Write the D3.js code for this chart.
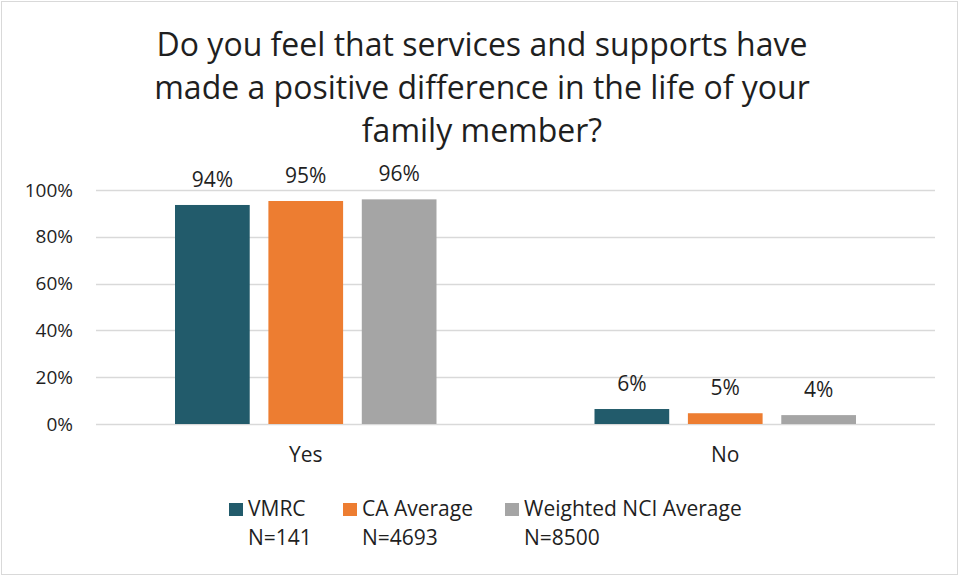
<!DOCTYPE html>
<html>
<head>
<meta charset="utf-8">
<script src="https://cdn.jsdelivr.net/npm/d3@7"></script>
<style>
  body { margin: 0; background: #fff; }
  text { font-family: "Open Sans", Lato, sans-serif; fill: #1f1f1f; }
</style>
</head>
<body>
<script>
// chart values
const categories = ["Yes", "No"];
const seriesNames = ["VMRC", "CA Average", "Weighted NCI Average"];
const seriesN = ["N=141", "N=4693", "N=8500"];
const vmrc = [0.936, 0.064];
const caAverage = [0.953, 0.046];
const nciAverage = [0.96, 0.038];
const yTicks = [0, 0.2, 0.4, 0.6, 0.8, 1];
const titleLines = ["Do you feel that services and supports have",
                    "made a positive difference in the life of your",
                    "family member?"];

const colors = ["#225B6B", "#ED7D31", "#A5A5A5"];
const series = [vmrc, caAverage, nciAverage];

const W = 960, H = 577;
const margin = {top: 190, right: 25, bottom: 153, left: 96};
const width = W - margin.left - margin.right;
const height = H - margin.top - margin.bottom;

var svg = d3.select("body").append("svg")
    .attr("width", W)
    .attr("height", H);

// outer border
svg.append("rect")
    .attr("x", 1.5).attr("y", 1.5)
    .attr("width", W - 4).attr("height", H - 4)
    .attr("fill", "#fff")
    .attr("stroke", "#d9d9d9");

// title
svg.append("text")
    .attr("text-anchor", "middle")
    .style("font-size", "32px")
    .selectAll("tspan")
    .data(titleLines)
    .enter().append("tspan")
    .attr("x", 482)
    .attr("y", function(d, i) { return 56 + i * 43; })
    .text(function(d) { return d; });

var g = svg.append("g")
    .attr("transform", "translate(" + margin.left + "," + margin.top + ")");

var x0 = d3.scaleBand().domain(categories).range([0, width]).paddingInner(0).paddingOuter(0);
var x1 = d3.scaleBand().domain(d3.range(series.length))
    .range([79, x0.bandwidth() - 79]).paddingInner(0.2);
var y = d3.scaleLinear().domain([0, 1]).range([height, 0]);

// gridlines
g.selectAll(".grid")
    .data(yTicks)
    .enter().append("line")
    .attr("class", "grid")
    .attr("x1", 0).attr("x2", width)
    .attr("y1", function(d) { return Math.round(y(d)) + 0.5; })
    .attr("y2", function(d) { return Math.round(y(d)) + 0.5; })
    .attr("stroke", "#d9d9d9")
    .attr("stroke-width", 1.5);

// y axis labels
var yAxis = d3.axisLeft(y).tickValues(yTicks).tickFormat(d3.format(".0%")).tickSize(0).tickPadding(23);
g.append("g").attr("class", "y axis").call(yAxis)
    .call(function(a) { a.select(".domain").remove(); })
    .selectAll("text")
    .style("font-size", "19px")
    .attr("fill", "#1f1f1f");

// x axis labels
var xAxis = d3.axisBottom(x0).tickSize(0).tickPadding(23);
g.append("g").attr("class", "x axis")
    .attr("transform", "translate(0," + height + ")")
    .call(xAxis)
    .call(function(a) { a.select(".domain").remove(); })
    .selectAll("text")
    .style("font-size", "21px")
    .attr("fill", "#1f1f1f");

// bars
var groups = g.selectAll(".group")
    .data(categories)
    .enter().append("g")
    .attr("class", "group")
    .attr("transform", function(d) { return "translate(" + x0(d) + ",0)"; });

groups.selectAll("rect")
    .data(function(d, ci) { return series.map(function(s, si) { return {si: si, v: s[ci]}; }); })
    .enter().append("rect")
    .attr("x", function(d) { return x1(d.si); })
    .attr("y", function(d) { return y(d.v); })
    .attr("width", x1.bandwidth())
    .attr("height", function(d) { return height - y(d.v); })
    .attr("fill", function(d) { return colors[d.si]; });

groups.selectAll(".label")
    .data(function(d, ci) { return series.map(function(s, si) { return {si: si, v: s[ci]}; }); })
    .enter().append("text")
    .attr("class", "label")
    .attr("text-anchor", "middle")
    .attr("x", function(d) { return x1(d.si) + x1.bandwidth() / 2; })
    .attr("y", function(d) { return y(d.v) - 18; })
    .style("font-size", "21px")
    .text(function(d) { return d3.format(".0%")(d.v); });

// legend
var legendX = [229, 343, 505];
var legend = svg.selectAll(".legend")
    .data(seriesNames)
    .enter().append("g")
    .attr("class", "legend")
    .attr("transform", function(d, i) { return "translate(" + legendX[i] + ",503)"; });

legend.append("rect")
    .attr("width", 14).attr("height", 13)
    .attr("fill", function(d, i) { return colors[i]; });

legend.append("text")
    .attr("x", 19).attr("y", 13)
    .style("font-size", "21px")
    .text(function(d) { return d; });

legend.append("text")
    .attr("x", 19).attr("y", 42)
    .style("font-size", "21px")
    .text(function(d, i) { return seriesN[i]; });
</script>
</body>
</html>
